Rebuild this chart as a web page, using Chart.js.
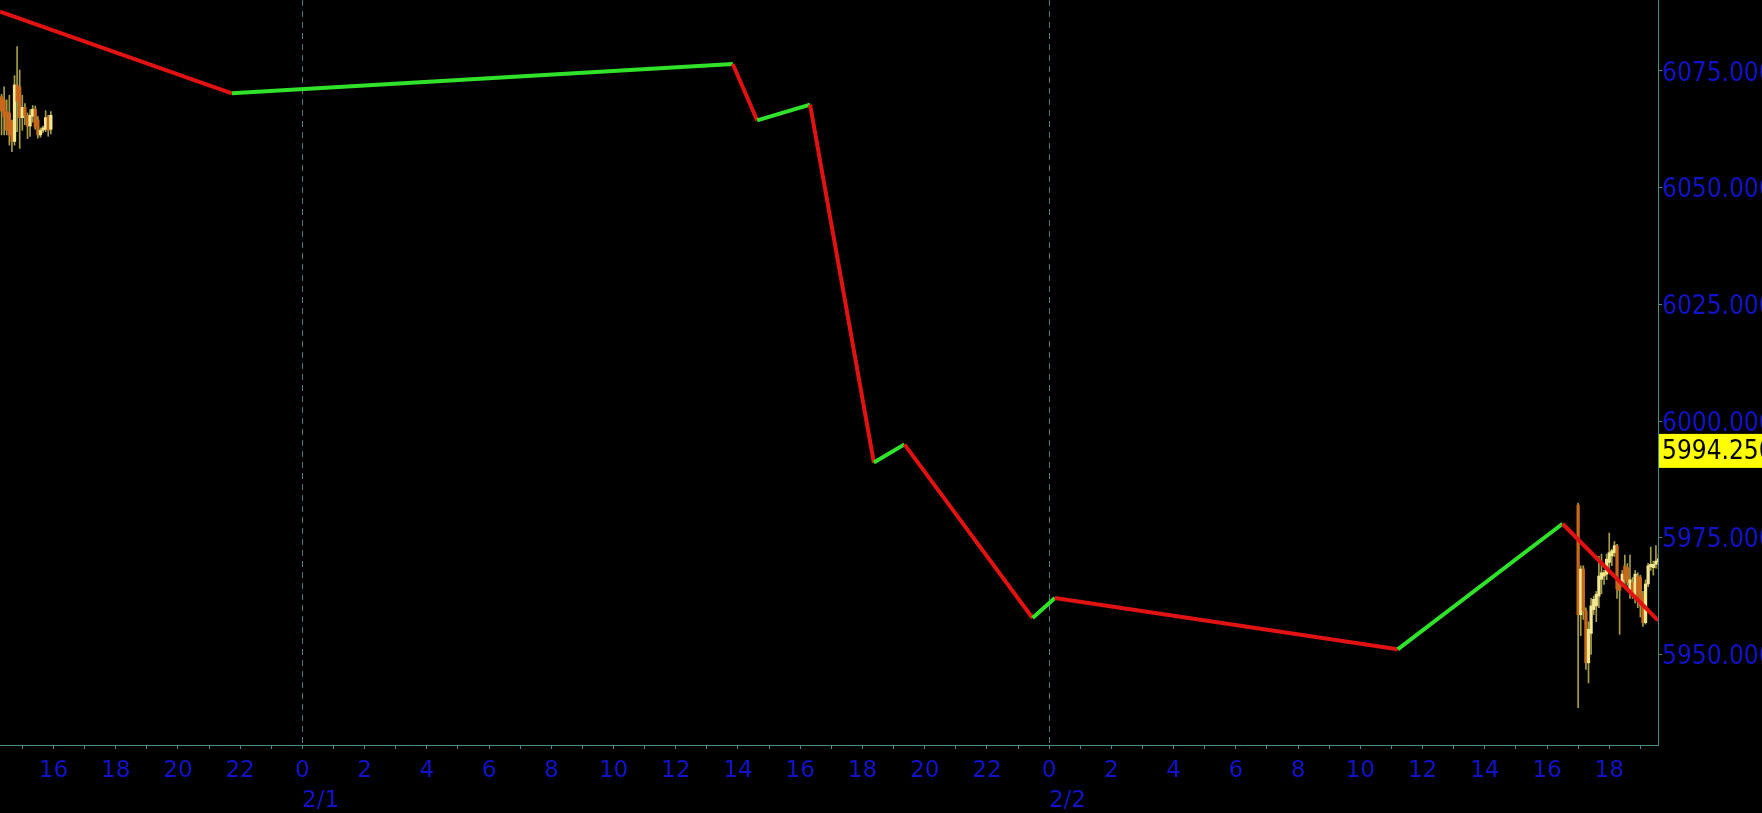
<!DOCTYPE html>
<html>
<head>
<meta charset="utf-8">
<title>Zigzag 5 min</title>
<script src="https://cdn.jsdelivr.net/npm/chart.js@4.4.1/dist/chart.umd.min.js"></script>
<style>
  html, body { margin: 0; padding: 0; background: #000; overflow: hidden; }
  canvas { display: block; }
</style>
</head>
<body>
<canvas id="chart" width="1762" height="813"></canvas>
<script>
// Zigzag sobre velas de 5 min (31/1 tarde -> 2/2 noche)
// Tiempo en horas relativas a 2/1 00:00
const DAY_OFFSET = { '1/31': -24, '2/1': 0, '2/2': 24 };
const toHours = s => {
  const [d, hm] = s.split(' ');
  const [h, m] = hm.split(':').map(Number);
  return DAY_OFFSET[d] + h + m / 60;
};

const xMin = '1/31 14:17';
const xMax = '2/2 19:34';
const yMin = 5930.6;
const yMax = 6090.2;
const yTicks = [5950, 5975, 6000, 6025, 6050, 6075];
const dayLabels = { 0: '2/1', 24: '2/2' };
const lastPrice = 5994.25;

// Zigzag
const zigTimes = ['1/31 14:17', '1/31 21:44', '2/1 13:50', '2/1 14:37', '2/1 16:19', '2/1 18:22',
  '2/1 19:21', '2/1 23:28', '2/2 00:11', '2/2 11:12', '2/2 16:30', '2/2 19:34'];
const zigValues = [6087.7, 6070.2, 6076.5, 6064.4, 6067.8, 5991.1,
  5995.0, 5957.8, 5962.1, 5951.1, 5978.0, 5957.3];

// Velas 5 min
const candleTimes = [
  '1/31 14:20', '1/31 14:25', '1/31 14:30', '1/31 14:35', '1/31 14:40', '1/31 14:45', '1/31 14:50',
  '1/31 14:55', '1/31 15:00', '1/31 15:05', '1/31 15:10', '1/31 15:15', '1/31 15:20', '1/31 15:25',
  '1/31 15:30', '1/31 15:35', '1/31 15:40', '1/31 15:45', '1/31 15:50', '1/31 15:55',
  '2/2 17:00', '2/2 17:05', '2/2 17:10', '2/2 17:15', '2/2 17:20', '2/2 17:25', '2/2 17:30', '2/2 17:35',
  '2/2 17:40', '2/2 17:45', '2/2 17:50', '2/2 17:55', '2/2 18:00', '2/2 18:05', '2/2 18:10', '2/2 18:15',
  '2/2 18:20', '2/2 18:25', '2/2 18:30', '2/2 18:35', '2/2 18:40', '2/2 18:45', '2/2 18:50', '2/2 18:55',
  '2/2 19:00', '2/2 19:05', '2/2 19:10', '2/2 19:15', '2/2 19:20', '2/2 19:25', '2/2 19:30', '2/2 19:35'
];
const candleOpen = [
  6069.5, 6068.8, 6066.3, 6066.0, 6064.1, 6059.9, 6072.0, 6071.6, 6065.0, 6067.2,
  6065.4, 6063.2, 6065.3, 6066.8, 6064.5, 6061.3, 6062.3, 6062.5, 6065.2, 6062.5,
  5982.0, 5958.5, 5968.3, 5959.3, 5948.2, 5954.5, 5959.6, 5960.4, 5962.5, 5966.1, 5966.8,
  5967.2, 5969.7, 5971.1, 5971.8, 5973.3, 5965.4, 5965.4, 5969.0, 5968.6, 5963.5, 5965.4,
  5962.5, 5966.8, 5966.5, 5962.5, 5956.8, 5965.1, 5968.8, 5968.6, 5969.3, 5969.8
];
const candleHigh = [
  6070.0, 6071.6, 6068.8, 6069.8, 6064.5, 6074.0, 6080.2, 6075.2, 6069.8, 6068.0,
  6066.0, 6066.7, 6067.6, 6067.5, 6065.2, 6062.8, 6063.2, 6066.5, 6065.5, 6066.3,
  5982.4, 5969.0, 5969.0, 5960.0, 5957.0, 5962.0, 5962.5, 5963.5, 5971.0, 5971.5, 5968.0,
  5971.5, 5976.0, 5972.5, 5974.2, 5973.6, 5966.0, 5968.0, 5971.3, 5969.5, 5971.3, 5966.5,
  5968.0, 5967.5, 5967.0, 5963.5, 5966.0, 5969.5, 5973.0, 5970.0, 5973.3, 5971.5
];
const candleLow = [
  6061.3, 6061.3, 6061.3, 6059.1, 6057.7, 6059.1, 6062.0, 6058.4, 6062.3, 6063.5,
  6060.5, 6061.0, 6064.0, 6062.5, 6060.6, 6060.8, 6061.8, 6062.0, 6061.0, 6061.5,
  5938.6, 5954.0, 5957.5, 5946.8, 5943.9, 5950.0, 5958.5, 5957.0, 5960.0, 5963.0, 5965.0,
  5966.0, 5968.0, 5969.0, 5971.0, 5962.0, 5954.3, 5964.5, 5965.0, 5964.8, 5962.0, 5962.0,
  5961.0, 5960.0, 5958.0, 5956.0, 5956.5, 5964.5, 5968.0, 5967.0, 5968.5, 5968.3
];
const candleClose = [
  6066.4, 6065.2, 6062.3, 6061.3, 6059.9, 6072.0, 6068.5, 6065.0, 6067.2, 6065.4,
  6063.2, 6065.5, 6066.8, 6063.0, 6061.3, 6062.3, 6062.8, 6065.0, 6062.3, 6065.5,
  5958.5, 5968.3, 5959.3, 5948.2, 5955.4, 5960.4, 5961.8, 5962.9, 5966.8, 5967.5, 5967.5,
  5970.4, 5971.8, 5972.2, 5973.3, 5964.0, 5963.7, 5967.2, 5966.1, 5965.4, 5966.0, 5963.2,
  5967.2, 5962.5, 5960.4, 5956.8, 5965.1, 5969.0, 5969.3, 5969.3, 5970.0, 5970.5
];

// Colores
const RED = '#e01212';
const GREEN = '#30e32a';
const AXIS = '#4f8888';
const GRID = '#4a7c80';
const BLUE = '#1212c8';
const UP_FILL = '#f2e890';
const DOWN_FILL = '#c8681c';
const WICK = '#a59c48';

const yFont = { family: "'DejaVu Sans Condensed', 'DejaVu Sans', sans-serif", size: 26 };
const xFont = { family: "'DejaVu Sans', sans-serif", size: 23, lineHeight: 1.3 };

const candles = candleTimes.map((t, i) => ({
  t: toHours(t), o: candleOpen[i], h: candleHigh[i], l: candleLow[i], c: candleClose[i]
}));

const xTickHours = [];
for (let h = Math.ceil(toHours(xMin)); h <= toHours(xMax); h++) xTickHours.push(h);

// sin padding extra por las etiquetas de los extremos
const noPad = s => { s.paddingTop = 0; s.paddingBottom = 0; s.paddingLeft = 0; s.paddingRight = 0; };

// Etiqueta amarilla del precio
const priceTag = {
  id: 'priceTag',
  afterDraw(chart) {
    const { ctx, chartArea, scales: { y } } = chart;
    const py = y.getPixelForValue(lastPrice);
    ctx.save();
    ctx.fillStyle = '#ffff00';
    ctx.fillRect(chartArea.right + 1, py - 14, chart.width - chartArea.right, 34);
    ctx.fillStyle = '#000';
    ctx.font = `${yFont.size}px ${yFont.family}`;
    ctx.textBaseline = 'middle';
    ctx.fillText(lastPrice.toFixed(3), chartArea.right + 4, py + 4);
    ctx.restore();
  }
};

new Chart(document.getElementById('chart'), {
  type: 'line',
  data: {
    datasets: [
      {
        label: 'Zigzag',
        data: zigTimes.map((t, i) => ({ x: toHours(t), y: zigValues[i] })),
        borderColor: RED,
        borderWidth: 4,
        borderJoinStyle: 'round',
        pointRadius: 0,
        tension: 0,
        segment: { borderColor: ctx => ctx.p1.parsed.y >= ctx.p0.parsed.y ? GREEN : RED },
        order: 0
      },
      {
        type: 'bar',
        label: 'Cuerpo',
        data: candles.map(k => ({ x: k.t, y: [k.o, k.c] })),
        backgroundColor: ctx => {
          const k = candles[ctx.dataIndex];
          return k && k.c >= k.o ? UP_FILL : DOWN_FILL;
        },
        barThickness: 2.6,
        minBarLength: 1,
        grouped: false,
        order: 1
      },
      {
        type: 'bar',
        label: 'Mecha',
        data: candles.map(k => ({ x: k.t, y: [k.l, k.h] })),
        backgroundColor: WICK,
        barThickness: 1,
        grouped: false,
        order: 2
      }
    ]
  },
  options: {
    responsive: false,
    devicePixelRatio: 1,
    animation: false,
    layout: { padding: 0 },
    plugins: { legend: { display: false }, tooltip: { enabled: false } },
    scales: {
      x: {
        type: 'linear',
        min: toHours(xMin),
        max: toHours(xMax),
        offset: false,
        afterBuildTicks: s => { s.ticks = xTickHours.map(v => ({ value: v })); },
        afterFit: s => { s.height = 68; noPad(s); },
        border: { color: AXIS, width: 1, dash: [6, 5] },
        grid: {
          offset: false,
          color: ctx => (ctx.tick && ctx.tick.value % 24 === 0) ? GRID : 'rgba(0,0,0,0)',
          lineWidth: 1,
          tickColor: AXIS,
          tickLength: 4
        },
        ticks: {
          autoSkip: false, maxRotation: 0, minRotation: 0, padding: 7,
          color: BLUE, font: xFont,
          callback: v => {
            const h = ((v % 24) + 24) % 24;
            if (h % 2) return '';
            if (h === 0) return ['0', '     ' + dayLabels[v]];
            return String(h);
          }
        }
      },
      y: {
        type: 'linear',
        position: 'right',
        min: yMin,
        max: yMax,
        beginAtZero: false,
        afterBuildTicks: s => { s.ticks = yTicks.map(v => ({ value: v })); },
        afterFit: s => { s.width = 104; noPad(s); },
        border: { color: AXIS, width: 1 },
        grid: { drawOnChartArea: false, tickColor: AXIS, tickLength: 4 },
        ticks: { padding: 0, labelOffset: 3, color: BLUE, font: yFont, callback: v => v.toFixed(3) }
      }
    }
  },
  plugins: [priceTag]
});
</script>
</body>
</html>
